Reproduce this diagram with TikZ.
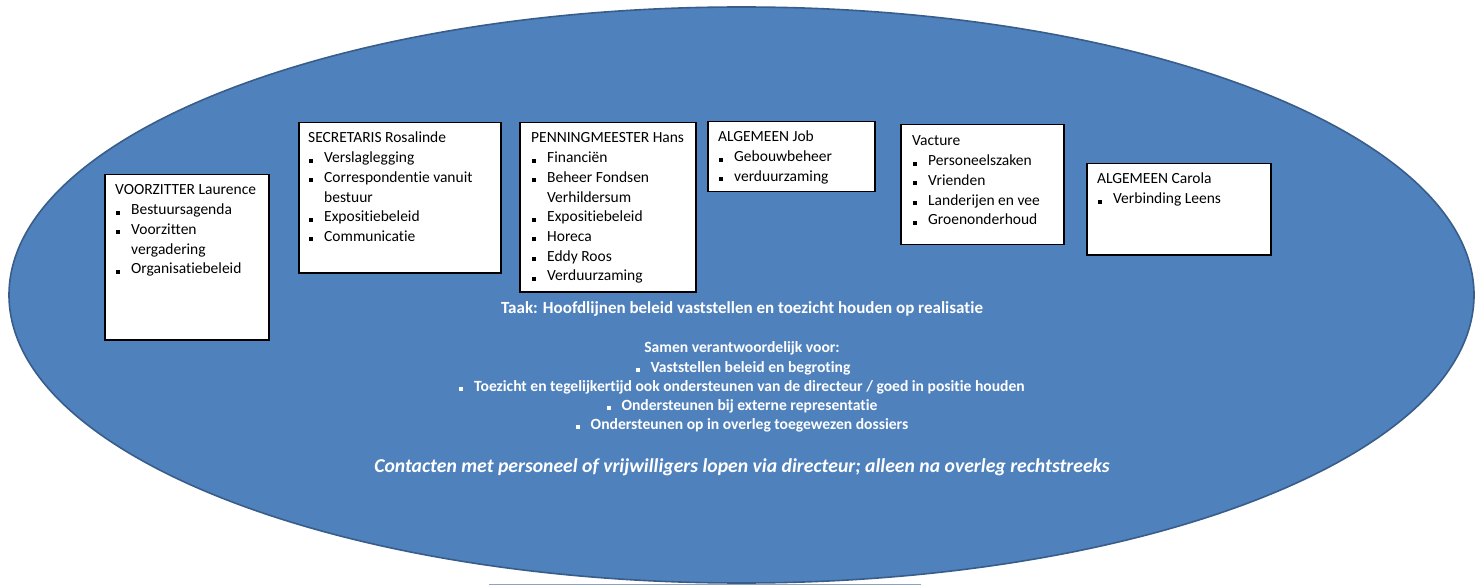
\documentclass[tikz,border=0pt]{standalone}
\usepackage{fontspec}
\setmainfont[Ligatures={NoCommon,NoRare,NoContextual},RawFeature={-liga;-clig;-calt;-dlig}]{Carlito}
\usetikzlibrary{shapes.geometric}
\definecolor{ellfill}{HTML}{4F81BD}
\definecolor{elldraw}{HTML}{385D8A}
\definecolor{lowline}{HTML}{8FA2C0}
\newcommand{\bul}{\rule{4pt}{4pt}}
\newcommand{\bi}{\makebox[16pt][l]{\hspace{1pt}\bul}}
\newcommand{\hd}[1]{\multicolumn{2}{@{}l@{}}{#1}}
\begin{document}
\begin{tikzpicture}[x=1pt,y=-1pt,
  boxst/.style={draw=black, line width=1.5pt, fill=white, inner sep=0pt, anchor=north west},
  txt/.style={anchor=base west, inner sep=0pt, font=\fontsize{15.5}{19.7}\selectfont},
  ctr/.style={anchor=base, text=white, inner sep=0pt, font=\bfseries\fontsize{17}{20}\selectfont},
  cbul/.style={anchor=base, text=white, inner sep=0pt, font=\bfseries\fontsize{15.6}{18}\selectfont}]
\useasboundingbox (0,0) rectangle (1479,585);
\draw[lowline, line width=1.2pt] (489,584.4) -- (921,584.4);
\node[ellipse, fill=ellfill, draw=elldraw, line width=1.6pt, minimum width=1465pt, minimum height=576pt, inner sep=0pt] (ell) at (741.5,295) {};
% boxes
\node[boxst, minimum width=164pt, minimum height=165pt] (b1) at (104,174) {};
\node[boxst, minimum width=202pt, minimum height=150pt] (b2) at (298,122) {};
\node[boxst, minimum width=176pt, minimum height=169pt] (b3) at (519,122) {};
\node[boxst, minimum width=167pt, minimum height=70pt] (b4) at (707,121) {};
\node[boxst, minimum width=163pt, minimum height=120pt] (b5) at (900,124) {};
\node[boxst, minimum width=184pt, minimum height=91pt] (b6) at (1086,163) {};
% box texts
\node[txt] (t1) at (115,195) {\begin{tabular}[t]{@{}l@{}l@{}}
\hd{VOORZITTER Laurence}\\
\bi & Bestuursagenda\\
\bi & Voorzitten\\
 & vergadering\\
\bi & Organisatiebeleid
\end{tabular}};
\node[txt] (t2) at (308,143) {\begin{tabular}[t]{@{}l@{}l@{}}
\hd{SECRETARIS Rosalinde}\\
\bi & Verslaglegging\\
\bi & Correspondentie vanuit\\
 & bestuur\\
\bi & Expositiebeleid\\
\bi & Communicatie
\end{tabular}};
\node[txt] (t3) at (531,143) {\begin{tabular}[t]{@{}l@{}l@{}}
\hd{PENNINGMEESTER Hans}\\
\bi & Financiën\\
\bi & Beheer Fondsen\\
 & Verhildersum\\
\bi & Expositiebeleid\\
\bi & Horeca\\
\bi & Eddy Roos\\
\bi & Verduurzaming
\end{tabular}};
\node[txt] (t4) at (718,142) {\begin{tabular}[t]{@{}l@{}l@{}}
\hd{ALGEMEEN Job}\\
\bi & Gebouwbeheer\\
\bi & verduurzaming
\end{tabular}};
\node[txt] (t5) at (912,146) {\begin{tabular}[t]{@{}l@{}l@{}}
\hd{Vacture}\\
\bi & Personeelszaken\\
\bi & Vrienden\\
\bi & Landerijen en vee\\
\bi & Groenonderhoud
\end{tabular}};
\node[txt] (t6) at (1097,184) {\begin{tabular}[t]{@{}l@{}l@{}}
\hd{ALGEMEEN Carola}\\
\bi & Verbinding Leens
\end{tabular}};
% centre texts
\node[ctr] (taak) at (742,313) {Taak: Hoofdlijnen beleid vaststellen en toezicht houden op realisatie};
\node[cbul] (samen) at (742,352) {Samen verantwoordelijk voor:};
\node[cbul] (c1) at (743,372) {\bul\hspace{11pt}Vaststellen beleid en begroting};
\node[cbul] (c2) at (742,391) {\bul\hspace{11pt}Toezicht en tegelijkertijd ook ondersteunen van de directeur / goed in positie houden};
\node[cbul] (c3) at (742,410) {\bul\hspace{11pt}Ondersteunen bij externe representatie};
\node[cbul] (c4) at (742,429) {\bul\hspace{11pt}Ondersteunen op in overleg toegewezen dossiers};
\node[anchor=base, text=white, inner sep=0pt, font=\bfseries\itshape\fontsize{19.7}{22}\selectfont] (contact) at (742,472) {Contacten met personeel of vrijwilligers lopen via directeur; alleen na overleg rechtstreeks};
\end{tikzpicture}
\end{document}
